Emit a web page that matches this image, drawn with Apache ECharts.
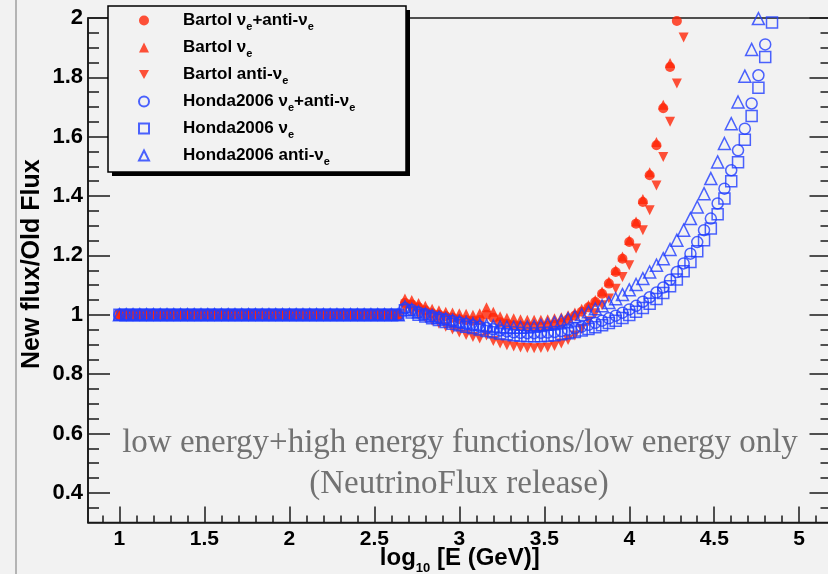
<!DOCTYPE html>
<html><head><meta charset="utf-8">
<script src="https://cdn.jsdelivr.net/npm/echarts@6/dist/echarts.min.js"></script>
<style>html,body{margin:0;padding:0;background:#f2f2f2;}#chart{width:828px;height:574px;}</style>
</head><body><div id="chart"></div>
<script>
// ---- data ----
const xLog = [1.00,1.04,1.08,1.12,1.16,1.20,1.24,1.28,1.32,1.36,1.40,1.44,1.48,1.52,1.56,1.60,1.64,1.68,1.72,1.76,
  1.80,1.84,1.88,1.92,1.96,2.00,2.04,2.08,2.12,2.16,2.20,2.24,2.28,2.32,2.36,2.40,2.44,2.48,2.52,2.56,2.60,2.64,
  2.68,2.72,2.76,2.80,2.84,2.88,2.92,2.96,3.00,3.04,3.08,3.12,3.16,3.20,3.24,3.28,3.32,3.36,3.40,3.44,3.48,3.52,
  3.56,3.60,3.64,3.68,3.72,3.76,3.80,3.84,3.88,3.92,3.96,4.00,4.04,4.08,4.12,4.16,4.20,4.24,4.28,4.32,
  4.36,4.40,4.44,4.48,4.52,4.56,4.60,4.64,4.68,4.72,4.76,4.80,4.84];
// low-energy region (log10 E = 1.00 ... 2.64): ratio read as 1 for every series
const flatRatio = [1,1,1,1,1,1,1,1,1,1,1,1,1,1,1,1,1,1,1,1,1,1,1,1,1,1,1,1,1,1,1,1,1,1,1,1,1,1,1,1,1,1];
// log10 E = 2.68 ... 4.32
const bartolCombHigh = [1.04,1.035,1.025,1.015,1.005,1.0,0.995,0.99,0.985,0.982,
  0.98,0.982,1.0,0.99,0.975,0.97,0.965,0.962,0.96,0.96,
  0.96,0.962,0.966,0.972,0.985,0.997,1.01,1.025,1.043,1.071,
  1.105,1.144,1.189,1.245,1.307,1.38,1.47,1.571,1.696,1.835,1.99,2.16];
const bartolNuHigh = [1.055,1.05,1.04,1.03,1.02,1.015,1.01,1.008,1.005,1.003,
  1.0,1.005,1.025,1.01,0.995,0.99,0.988,0.985,0.983,0.983,
  0.983,0.985,0.988,0.992,0.998,1.008,1.02,1.033,1.05,1.078,
  1.112,1.151,1.196,1.252,1.314,1.39,1.48,1.582,1.708,1.848,2.005,2.18];
const bartolAntiHigh = [1.02,1.01,1.0,0.99,0.98,0.97,0.96,0.95,0.94,0.932,
  0.925,0.92,0.93,0.912,0.903,0.897,0.893,0.89,0.888,0.887,
  0.888,0.89,0.895,0.903,0.915,0.93,0.952,0.978,1.005,1.032,
  1.055,1.088,1.127,1.167,1.223,1.285,1.352,1.436,1.532,1.65,1.779,1.934];
// log10 E = 2.68 ... 4.84
const hondaCombHigh = [1.022,1.016,1.008,1.002,0.996,0.99,0.985,0.979,0.974,0.969,
  0.964,0.96,0.955,0.951,0.947,0.944,0.941,0.939,0.938,0.938,
  0.939,0.94,0.942,0.945,0.95,0.955,0.96,0.966,0.973,0.98,
  0.988,0.997,1.007,1.018,1.03,1.044,1.059,1.075,1.092,1.118,
  1.144,1.173,1.206,1.245,1.285,1.324,1.375,1.425,1.487,1.554,
  1.627,1.712,1.807,1.911,2.03];
const hondaNuHigh = [1.015,1.008,1.0,0.994,0.988,0.982,0.976,0.97,0.965,0.96,
  0.955,0.95,0.945,0.941,0.937,0.934,0.931,0.929,0.928,0.928,
  0.928,0.929,0.931,0.934,0.938,0.942,0.947,0.952,0.958,0.965,
  0.972,0.98,0.989,0.999,1.01,1.023,1.037,1.053,1.073,1.096,
  1.119,1.147,1.178,1.214,1.251,1.291,1.339,1.392,1.45,1.514,
  1.59,1.67,1.765,1.869,1.985];
const hondaAntiHigh = [1.027,1.018,1.01,1.003,0.997,0.992,0.987,0.982,0.978,0.974,
  0.97,0.967,0.964,0.962,0.96,0.959,0.958,0.958,0.959,0.961,
  0.964,0.968,0.973,0.979,0.986,0.993,1.001,1.01,1.02,1.03,
  1.041,1.054,1.068,1.084,1.102,1.122,1.144,1.167,1.189,1.22,
  1.251,1.285,1.324,1.363,1.408,1.459,1.515,1.577,1.644,1.717,
  1.804,1.894,1.998,2.11,2.23];

const xTickLabels = [1,1.5,2,2.5,3,3.5,4,4.5,5];
const xMinorTicks = [0.9,1.1,1.2,1.3,1.4,1.6,1.7,1.8,1.9,2.1,2.2,2.3,2.4,2.6,2.7,2.8,2.9,3.1,3.2,3.3,3.4,
  3.6,3.7,3.8,3.9,4.1,4.2,4.3,4.4,4.6,4.7,4.8,4.9,5.1];
const yTickLabels = [0.4,0.6,0.8,1,1.2,1.4,1.6,1.8,2];
const yMinorTicks = [0.35,0.45,0.5,0.55,0.65,0.7,0.75,0.85,0.9,0.95,1.05,1.1,1.15,1.25,1.3,1.35,
  1.45,1.5,1.55,1.65,1.7,1.75,1.85,1.9,1.95];

const seriesNames = ['Bartol \u03bde+anti-\u03bde','Bartol \u03bde','Bartol anti-\u03bde',
  'Honda2006 \u03bde+anti-\u03bde','Honda2006 \u03bde','Honda2006 anti-\u03bde'];
const legendRich = {};
legendRich[seriesNames[0]] = '{f|Bartol \u03bd}{s|e}{t|+anti-\u03bd}{s|e}';
legendRich[seriesNames[1]] = '{f|Bartol \u03bd}{s|e}';
legendRich[seriesNames[2]] = '{f|Bartol anti-\u03bd}{s|e}';
legendRich[seriesNames[3]] = '{f|Honda2006 \u03bd}{s|e}{t|+anti-\u03bd}{s|e}';
legendRich[seriesNames[4]] = '{f|Honda2006 \u03bd}{s|e}';
legendRich[seriesNames[5]] = '{f|Honda2006 anti-\u03bd}{s|e}';

function pairs(vals) {
  const out = [];
  for (let i = 0; i < vals.length && i < xLog.length; i++) out.push([xLog[i], vals[i]]);
  return out;
}

const RED = '#ff2608', BLUE = '#1f3cff';
const DOWN_TRI = 'path://M0,0L10,0L5,9Z';
const FONT = 'Liberation Sans';
const AX = '#1a1a1a';

const chart = echarts.init(document.getElementById('chart'), null, {renderer: 'canvas'});
const grid = {left: 88, top: 18, width: 743.5, height: 504.5, show: true, borderColor: AX, borderWidth: 1.6,
  backgroundColor: 'transparent', containLabel: false, outerBoundsMode: 'none'};
const xr = {min: 0.815, max: 5.19};
const yr = {min: 0.3, max: 2};

chart.setOption({
  animation: false,
  backgroundColor: '#f2f2f2',
  grid: grid,
  xAxis: [
    {type: 'value', min: xr.min, max: xr.max, position: 'bottom',
     axisLine: {show: true, lineStyle: {color: AX, width: 1.6}},
     axisTick: {show: true, inside: true, length: 16, customValues: xTickLabels, lineStyle: {color: AX, width: 1.5}},
     axisLabel: {show: true, customValues: xTickLabels, margin: 6, color: '#000', fontFamily: FONT, fontWeight: 'bold', fontSize: 21},
     splitLine: {show: false},
     name: '{a|log}{s|10}{a| [E (GeV)]}', nameLocation: 'middle', nameGap: 19, nameMoveOverlap: false,
     nameTextStyle: {rich: {
       a: {fontFamily: FONT, fontWeight: 'bold', fontSize: 24, color: '#000', lineHeight: 33},
       s: {fontFamily: FONT, fontWeight: 'bold', fontSize: 13, color: '#000', lineHeight: 13, padding: [20,0,0,0]}
     }}},
    {type: 'value', min: xr.min, max: xr.max, position: 'bottom',
     axisLine: {show: false}, axisLabel: {show: false}, splitLine: {show: false},
     axisTick: {show: true, inside: true, length: 7, customValues: xMinorTicks, lineStyle: {color: AX, width: 1.5}}}
  ],
  yAxis: [
    {type: 'value', min: yr.min, max: yr.max, position: 'left',
     axisLine: {show: true, lineStyle: {color: AX, width: 1.6}},
     axisTick: {show: true, inside: true, length: 22, customValues: yTickLabels, lineStyle: {color: AX, width: 1.5}},
     axisLabel: {show: true, customValues: yTickLabels, margin: 5, color: '#000', fontFamily: FONT, fontWeight: 'bold', fontSize: 22},
     splitLine: {show: false},
     name: 'New flux/Old Flux', nameLocation: 'middle', nameGap: 43, nameMoveOverlap: false,
     nameTextStyle: {fontFamily: FONT, fontWeight: 'bold', fontSize: 25, color: '#000', lineHeight: 26, padding: [0,0,0,12]}},
    {type: 'value', min: yr.min, max: yr.max, position: 'left',
     axisLine: {show: false}, axisLabel: {show: false}, splitLine: {show: false},
     axisTick: {show: true, inside: true, length: 11, customValues: yMinorTicks, lineStyle: {color: AX, width: 1.5}}},
    {type: 'value', min: yr.min, max: yr.max, position: 'right',
     axisLine: {show: true, lineStyle: {color: AX, width: 1.6}}, axisLabel: {show: false}, splitLine: {show: false},
     axisTick: {show: true, inside: true, length: 22, customValues: yTickLabels, lineStyle: {color: AX, width: 1.5}}},
    {type: 'value', min: yr.min, max: yr.max, position: 'right',
     axisLine: {show: false}, axisLabel: {show: false}, splitLine: {show: false},
     axisTick: {show: true, inside: true, length: 11, customValues: yMinorTicks, lineStyle: {color: AX, width: 1.5}}}
  ],
  legend: {
    orient: 'vertical', left: 138, top: 6, z: 10,
    padding: [3, 0, 6, 0], itemGap: 4, itemWidth: 10, itemHeight: 10,
    data: seriesNames,
    formatter: function (name) { return legendRich[name]; },
    textStyle: {fontFamily: FONT, fontWeight: 'bold', fontSize: 17, color: '#000', rich: {
      f: {fontFamily: FONT, fontWeight: 'bold', fontSize: 17, color: '#000', lineHeight: 23, padding: [0,0,0,29]},
      t: {fontFamily: FONT, fontWeight: 'bold', fontSize: 17, color: '#000', lineHeight: 23},
      s: {fontFamily: FONT, fontWeight: 'bold', fontSize: 11, color: '#000', lineHeight: 11, padding: [12,0,0,0]}
    }}
  },
  graphic: [
    {type: 'line', shape: {x1: 16, y1: 0, x2: 16, y2: 574}, style: {stroke: '#b4b4b4', lineWidth: 2}, z: 1},
    {type: 'rect', shape: {x: 112, y: 10, width: 298, height: 166}, style: {fill: '#000'}, z: 8},
    {type: 'rect', shape: {x: 108, y: 6, width: 298, height: 166}, style: {fill: '#f2f2f2', stroke: '#000', lineWidth: 1.5}, z: 9},
    {type: 'text', z: 3, style: {text: 'low energy+high energy functions/low energy only', x: 460, y: 443,
      align: 'center', verticalAlign: 'middle', font: '33px "Liberation Serif"', fill: '#727272'}},
    {type: 'text', z: 3, style: {text: '(NeutrinoFlux release)', x: 459, y: 484,
      align: 'center', verticalAlign: 'middle', font: '33px "Liberation Serif"', fill: '#727272'}}
  ],
  series: [
    {name: seriesNames[0], type: 'scatter', symbol: 'circle', symbolSize: 10, z: 2,
     itemStyle: {color: RED}, data: pairs(flatRatio.concat(bartolCombHigh))},
    {name: seriesNames[1], type: 'scatter', symbol: 'triangle', symbolSize: 10, z: 2,
     itemStyle: {color: RED}, data: pairs(flatRatio.concat(bartolNuHigh))},
    {name: seriesNames[2], type: 'scatter', symbol: DOWN_TRI, symbolSize: 10, z: 2,
     itemStyle: {color: RED}, data: pairs(flatRatio.concat(bartolAntiHigh))},
    {name: seriesNames[3], type: 'scatter', symbol: 'circle', symbolSize: 11, z: 3,
     itemStyle: {color: 'rgba(0,0,0,0)', borderColor: BLUE, borderWidth: 1.5}, data: pairs(flatRatio.concat(hondaCombHigh))},
    {name: seriesNames[4], type: 'scatter', symbol: 'rect', symbolSize: 11, z: 3,
     itemStyle: {color: 'rgba(0,0,0,0)', borderColor: BLUE, borderWidth: 1.5}, data: pairs(flatRatio.concat(hondaNuHigh))},
    {name: seriesNames[5], type: 'scatter', symbol: 'triangle', symbolSize: 12, z: 3,
     itemStyle: {color: 'rgba(0,0,0,0)', borderColor: BLUE, borderWidth: 1.5}, data: pairs(flatRatio.concat(hondaAntiHigh))}
  ]
});
</script></body></html>
